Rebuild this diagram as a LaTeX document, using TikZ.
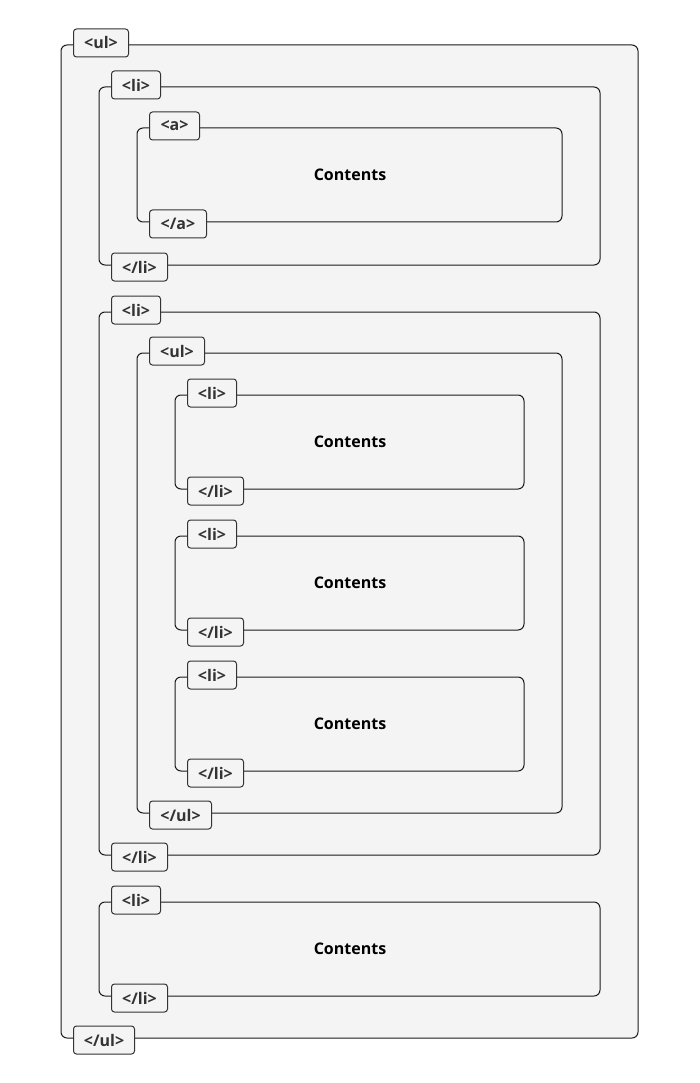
\documentclass[tikz,border=0pt]{standalone}
\usepackage{fontspec}
\setmainfont{Open Sans}
\definecolor{boxfill}{HTML}{F4F4F4}
\definecolor{tagline}{HTML}{333333}
\definecolor{tagtext}{HTML}{333333}
\definecolor{boxline}{HTML}{1A1A1A}
\begin{document}
\begin{tikzpicture}[x=1pt,y=-1pt,
  box/.style={draw=boxline, line width=1pt, fill=boxfill, rounded corners=6pt},
  tag/.style={draw=tagline, line width=1pt, fill=boxfill, rounded corners=3pt,
    minimum height=28pt, inner sep=0pt, anchor=west,
    font=\fontsize{16}{18}\selectfont\bfseries, text=tagtext},
  content/.style={font=\fontsize{16}{18}\selectfont\bfseries, text=black}]
\useasboundingbox (0,0) rectangle (700,1083);
\fill[white] (0,0) rectangle (700,1083);
% boxes
\draw[box] (61,45) rectangle (638,1038);
\draw[box] (99,87) rectangle (600,265);
\draw[box] (137,128) rectangle (562,222);
\draw[box] (99,312) rectangle (600,855);
\draw[box] (137,353) rectangle (562,813);
\draw[box] (175,395) rectangle (524,489);
\draw[box] (175,536) rectangle (524,630);
\draw[box] (175,677) rectangle (524,771);
\draw[box] (99,902) rectangle (600,996);
% tags
\node[tag, minimum width=55pt] (ulo) at (73,43) {<ul>};
\node[tag, minimum width=61pt] (ulc) at (73,1040) {</ul>};
\node[tag, minimum width=49pt] (lio1) at (111,85) {<li>};
\node[tag, minimum width=56pt] (lic1) at (111,267) {</li>};
\node[tag, minimum width=50pt] (ao) at (149,126) {<a>};
\node[tag, minimum width=57pt] (ac) at (149,224) {</a>};
\node[content] (c1) at (350,175) {Contents};
\node[tag, minimum width=49pt] (lio2) at (111,310) {<li>};
\node[tag, minimum width=56pt] (lic2) at (111,857) {</li>};
\node[tag, minimum width=55pt] (iulo) at (149,351) {<ul>};
\node[tag, minimum width=62pt] (iulc) at (149,815) {</ul>};
\node[tag, minimum width=49pt] (ilio1) at (187,393) {<li>};
\node[tag, minimum width=56pt] (ilic1) at (187,491) {</li>};
\node[content] (c2) at (350,442) {Contents};
\node[tag, minimum width=49pt] (ilio2) at (187,534) {<li>};
\node[tag, minimum width=56pt] (ilic2) at (187,632) {</li>};
\node[content] (c3) at (350,583) {Contents};
\node[tag, minimum width=49pt] (ilio3) at (187,675) {<li>};
\node[tag, minimum width=56pt] (ilic3) at (187,773) {</li>};
\node[content] (c4) at (350,724) {Contents};
\node[tag, minimum width=49pt] (lio3) at (111,900) {<li>};
\node[tag, minimum width=56pt] (lic3) at (111,998) {</li>};
\node[content] (c5) at (350,949) {Contents};
\end{tikzpicture}
\end{document}
